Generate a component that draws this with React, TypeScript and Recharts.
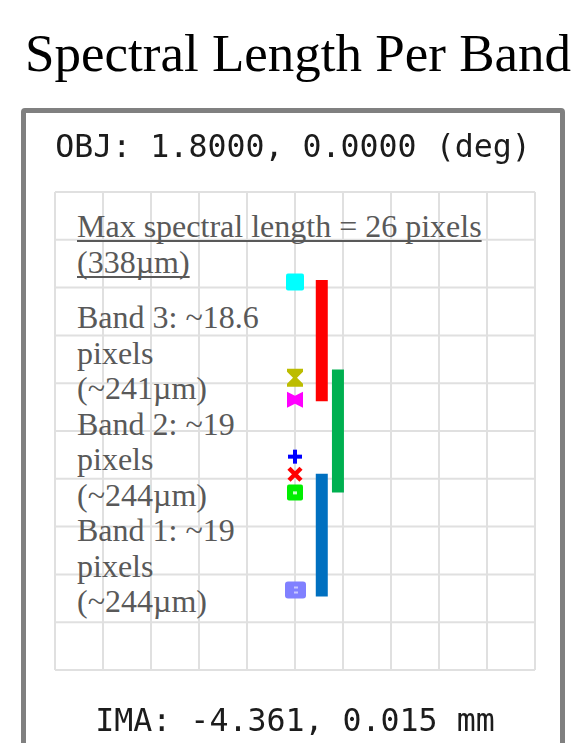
import React from "react";
import {
    ComposedChart,
    Line,
    Scatter,
    XAxis,
    YAxis,
    CartesianGrid,
} from "recharts";

const titleText = "Spectral Length Per Band";
const fieldLabel = "OBJ: 1.8000, 0.0000 (deg)";
const imageLabel = "IMA: -4.361, 0.015 mm";

// detector coordinates in µm, one grid square = 95 µm
const gridTicks = [0, 95, 190, 285, 380, 475, 570, 665, 760, 855, 950];

// spot centroids per wavelength, top to bottom
const spotX = [475, 475, 475, 475, 475, 475, 475];
const spotY = [180, 369, 413, 526, 561, 597, 790];
const spotShape = ["square", "hourglass", "bowtie", "plus", "cross", "box", "wide"];
const spotColor = ["#00ffff", "#bcbc00", "#ff00ff", "#0000ff", "#ff0000", "#00ee00", "#8080ff"];

// each band: column, where its spectrum starts and how long it is
const bandNames = ["Band 3", "Band 2", "Band 1"];
const bandX = [528, 560, 528];
const bandStart = [175, 353, 560];
const bandMicrons = [241, 244, 244];
const bandPixels = ["~18.6", "~19", "~19"];
const bandColor = ["#ff0000", "#00b050", "#0070c0"];

const maxPixels = 26;
const maxMicrons = 338;

const serif = "'Liberation Serif', 'Times New Roman', serif";
const mono = "'DejaVu Sans Mono', 'Liberation Mono', monospace";
const noteColor = "#595959";

const spots = spotY.map((y, i) => ({
    x: spotX[i],
    y,
    shape: spotShape[i],
    color: spotColor[i],
}));

function SpotMarker(props: any) {
    const { cx, cy, payload } = props;
    if (cx == null || cy == null) return null;
    const c = payload.color;
    let mark;
    switch (payload.shape) {
        case "square":
            mark = <rect x={cx - 9} y={cy - 9} width={18} height={17} rx={2} fill={c} />;
            break;
        case "hourglass":
            mark = (
                <path
                    d={`M${cx - 8},${cy - 9} L${cx + 8},${cy - 9} L${cx + 8},${cy - 6} L${cx + 2},${cy} L${cx + 8},${cy + 6} L${cx + 8},${cy + 9} L${cx - 8},${cy + 9} L${cx - 8},${cy + 6} L${cx - 2},${cy} L${cx - 8},${cy - 6} Z`}
                    fill={c}
                />
            );
            break;
        case "bowtie":
            mark = (
                <path
                    d={`M${cx - 8},${cy - 8} L${cx},${cy - 4} L${cx + 8},${cy - 8} L${cx + 8},${cy + 8} L${cx},${cy + 4} L${cx - 8},${cy + 8} Z`}
                    fill={c}
                />
            );
            break;
        case "plus":
            mark = (
                <g stroke={c} strokeWidth={4}>
                    <line x1={cx - 7} y1={cy} x2={cx + 7} y2={cy} />
                    <line x1={cx} y1={cy - 7} x2={cx} y2={cy + 7} />
                </g>
            );
            break;
        case "cross":
            mark = (
                <g stroke={c} strokeWidth={4.5}>
                    <line x1={cx - 6} y1={cy - 6} x2={cx + 6} y2={cy + 6} />
                    <line x1={cx - 6} y1={cy + 6} x2={cx + 6} y2={cy - 6} />
                </g>
            );
            break;
        case "box":
            mark = (
                <g>
                    <rect x={cx - 8} y={cy - 8} width={16} height={16} rx={2} fill={c} />
                    <rect x={cx - 2} y={cy - 1} width={4} height={3} fill="#c8ffc8" />
                </g>
            );
            break;
        default:
            mark = (
                <g>
                    <rect x={cx - 10} y={cy - 8} width={21} height={17} rx={3} fill={c} />
                    <rect x={cx - 1} y={cy - 3} width={4} height={2} fill="#c8c8ff" />
                    <rect x={cx - 1} y={cy + 2} width={4} height={2} fill="#c8c8ff" />
                </g>
            );
    }
    return <g filter="url(#soft)">{mark}</g>;
}

export default function App() {
    const noteLines: string[] = [];
    bandNames.forEach((name, i) => {
        noteLines.push(`${name}: ${bandPixels[i]}`);
        noteLines.push("pixels");
        noteLines.push(`(~${bandMicrons[i]}µm)`);
    });

    return (
        <div
            style={{
                position: "absolute",
                left: 0,
                top: 0,
                width: 575,
                height: 743,
                overflow: "hidden",
                background: "#fff",
            }}
        >
            <div
                style={{
                    position: "absolute",
                    left: 21,
                    top: 108,
                    width: 544,
                    height: 700,
                    border: "5px solid #808080",
                    borderRadius: 4,
                    boxSizing: "border-box",
                }}
            />
            <div style={{ position: "absolute", left: 0, top: 0 }}>
                <ComposedChart
                    width={575}
                    height={743}
                    margin={{ top: 192, right: 40, bottom: 73, left: 55 }}
                >
                    <defs>
                        <filter id="soft" x="-50%" y="-50%" width="200%" height="200%">
                            <feGaussianBlur stdDeviation={0.6} />
                        </filter>
                    </defs>
                    <CartesianGrid stroke="#e0e0e0" strokeWidth={2} />
                    <XAxis
                        type="number"
                        dataKey="x"
                        domain={[0, 950]}
                        ticks={gridTicks}
                        hide
                    />
                    <YAxis
                        type="number"
                        dataKey="y"
                        domain={[0, 950]}
                        ticks={gridTicks}
                        reversed
                        hide
                    />
                    {bandNames.map((name, i) => (
                        <Line
                            key={name}
                            name={name}
                            data={[
                                { x: bandX[i], y: bandStart[i] },
                                { x: bandX[i], y: bandStart[i] + bandMicrons[i] },
                            ]}
                            dataKey="y"
                            stroke={bandColor[i]}
                            strokeWidth={12}
                            dot={false}
                            activeDot={false}
                            isAnimationActive={false}
                        />
                    ))}
                    <Scatter
                        data={spots}
                        dataKey="y"
                        shape={SpotMarker}
                        isAnimationActive={false}
                    />
                </ComposedChart>
            </div>
            <svg
                width={575}
                height={743}
                style={{ position: "absolute", left: 0, top: 0, pointerEvents: "none" }}
            >
                <defs>
                    <filter id="softText" x="-5%" y="-20%" width="110%" height="140%">
                        <feGaussianBlur stdDeviation={0.4} />
                    </filter>
                </defs>
                <text x={25} y={71} fontFamily={serif} fontSize={53} fill="#000">
                    {titleText}
                </text>
                <g fontFamily={mono} fontSize={31.6} fill="#1a1a1a" filter="url(#softText)">
                    <text x={293} y={157} textAnchor="middle">
                        {fieldLabel}
                    </text>
                    <text x={295} y={731} textAnchor="middle">
                        {imageLabel}
                    </text>
                </g>
                <g fontFamily={serif} fontSize={32} fill={noteColor}>
                    {noteLines.map((line, i) => (
                        <text key={i} x={77} y={328 + i * 35.5}>
                            {line}
                        </text>
                    ))}
                </g>
            </svg>
            {/* max-length note, underlined as a block of HTML text */}
            <div
                style={{
                    position: "absolute",
                    left: 77,
                    top: 208,
                    fontFamily: serif,
                    fontSize: 32,
                    lineHeight: "36px",
                    color: noteColor,
                    textDecoration: "underline",
                    textDecorationSkipInk: "none",
                    textDecorationThickness: 2,
                    textUnderlineOffset: 3,
                    whiteSpace: "nowrap",
                }}
            >
                <div>{`Max spectral length = ${maxPixels} pixels`}</div>
                <div>{`(${maxMicrons}µm)`}</div>
            </div>
        </div>
    );
}
